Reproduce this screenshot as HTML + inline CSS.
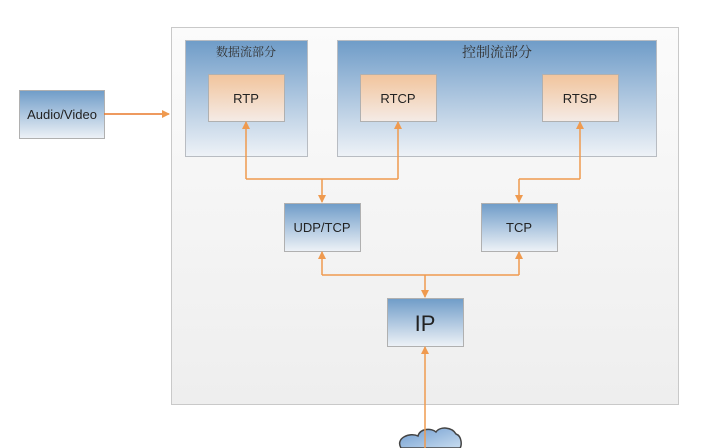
<!DOCTYPE html>
<html><head><meta charset="utf-8"><style>body{margin:0;background:#fff}svg{display:block}</style></head><body>
<svg width="718" height="448" viewBox="0 0 718 448" xmlns="http://www.w3.org/2000/svg" font-family="Liberation Sans, DejaVu Sans, sans-serif">
<defs>
<linearGradient id="bg" x1="0" y1="0" x2="0" y2="1"><stop offset="0" stop-color="#fbfbfb"/><stop offset="1" stop-color="#eeeeee"/></linearGradient>
<linearGradient id="blue" x1="0" y1="0" x2="0" y2="1"><stop offset="0" stop-color="#6f9cc8"/><stop offset="1" stop-color="#eef2f7"/></linearGradient>
<linearGradient id="or" x1="0" y1="0" x2="0" y2="1"><stop offset="0" stop-color="#f2c49c"/><stop offset="1" stop-color="#f4ebe6"/></linearGradient>
<linearGradient id="cl" x1="0" y1="0" x2="1" y2="1"><stop offset="0" stop-color="#6f9cd0"/><stop offset="1" stop-color="#c8dcef"/></linearGradient>
<marker id="ar" markerWidth="8" markerHeight="8" refX="7" refY="4" orient="auto" markerUnits="userSpaceOnUse"><path d="M0,0 L8,4 L0,8 z" fill="#ef9a4f"/></marker>
</defs>
<rect x="171.5" y="27.5" width="507" height="377" fill="url(#bg)" stroke="#c9c9c9"/>
<rect x="185.5" y="40.5" width="122" height="116" fill="url(#blue)" stroke="#b8bcc2"/>
<rect x="337.5" y="40.5" width="319" height="116" fill="url(#blue)" stroke="#b8bcc2"/>
<text x="246" y="56" font-size="12" text-anchor="middle" font-family="Noto Serif CJK SC, serif" fill="#333">数据流部分</text>
<text x="497" y="57" font-size="14" text-anchor="middle" font-family="Noto Serif CJK SC, serif" fill="#333">控制流部分</text>
<g stroke="#b0b0b0">
<rect x="208.5" y="74.5" width="76" height="47" fill="url(#or)"/>
<rect x="360.5" y="74.5" width="76" height="47" fill="url(#or)"/>
<rect x="542.5" y="74.5" width="76" height="47" fill="url(#or)"/>
<rect x="284.5" y="203.5" width="76" height="48" fill="url(#blue)"/>
<rect x="481.5" y="203.5" width="76" height="48" fill="url(#blue)"/>
<rect x="387.5" y="298.5" width="76" height="48" fill="url(#blue)"/>
<rect x="19.5" y="90.5" width="85" height="48" fill="url(#blue)"/>
</g>
<g font-size="13" fill="#222" text-anchor="middle">
<text x="246" y="103">RTP</text><text x="398" y="103">RTCP</text><text x="580" y="103">RTSP</text>
<text x="322" y="232">UDP/TCP</text><text x="519" y="232">TCP</text>
<text x="425" y="331" font-size="22">IP</text>
<text x="62" y="119">Audio/Video</text>
</g>
<path d="M401,448 C395,438 410,432 418,436 C420,428 432,428 436,432 C440,426 452,427 456,434 C462,436 462,446 460,448 Z" fill="url(#cl)" stroke="#444" stroke-width="1.5"/>
<g stroke="#ef9a4f" stroke-width="1.5" fill="none">
<path d="M104,114 H169" stroke="#e8782a" marker-end="url(#ar)"/>
<path d="M246,179 V122" marker-end="url(#ar)"/>
<path d="M398,179 V122" marker-end="url(#ar)"/>
<path d="M580,179 V122" marker-end="url(#ar)"/>
<path d="M246,179 H398"/>
<path d="M519,179 H580"/>
<path d="M322,179 V202" marker-end="url(#ar)"/>
<path d="M519,179 V202" marker-end="url(#ar)"/>
<path d="M322,275 H519"/>
<path d="M322,275 V252" marker-end="url(#ar)"/>
<path d="M519,275 V252" marker-end="url(#ar)"/>
<path d="M425,275 V297" marker-end="url(#ar)"/>
<path d="M425,448 V347" marker-end="url(#ar)"/>
</g>
</svg>
</body></html>
